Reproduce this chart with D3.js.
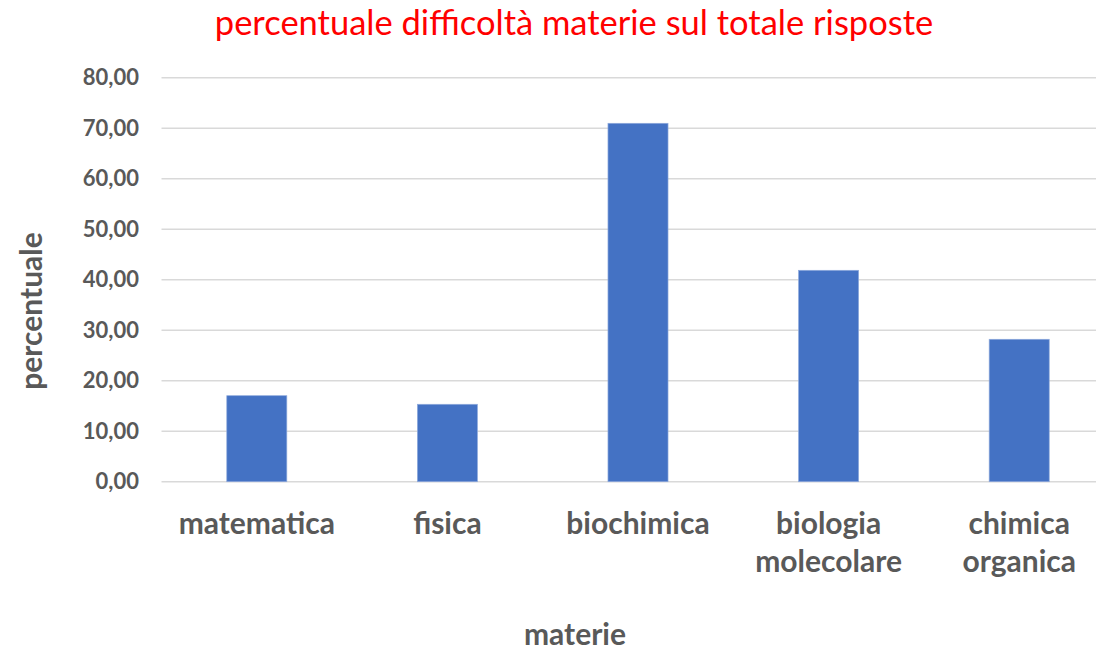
<!DOCTYPE html>
<html><head><meta charset="utf-8">
<script src="https://cdn.jsdelivr.net/npm/d3@7"></script>
<style>body{margin:0;background:#fff}svg{display:block}text{font-family:Lato,"Open Sans",sans-serif}</style>
</head><body><svg id="c" width="1096" height="651"></svg>
<script>
const categories = [["matematica"],["fisica"],["biochimica"],["biologia","molecolare"],["chimica","organica"]];
const values = [17.03, 15.33, 70.97, 41.86, 28.2];
const yTicks = [0,10,20,30,40,50,60,70,80];
const title = "percentuale difficoltà materie sul totale risposte";

const svg = d3.select("#c");
const pLeft = 161.5, pRight = 1114.5, pTop = 77.7, pBottom = 481.7;
const x = d3.scaleBand().domain(categories.map((d,i)=>i)).range([pLeft,pRight]).paddingInner(0.685).paddingOuter(0.3425);
const y = d3.scaleLinear().domain([0,80]).range([pBottom,pTop]);

const g = svg.append("g");
g.selectAll("line.grid").data(yTicks).join("line")
  .attr("x1",pLeft).attr("x2",pRight).attr("y1",d=>y(d)).attr("y2",d=>y(d))
  .attr("stroke","#d9d9d9").attr("stroke-width",1.5);

const yAxis = d3.axisLeft(y).tickValues(yTicks).tickSize(0).tickPadding(0)
  .tickFormat(d=>d3.format(".2f")(d).replace(".",","));
const ya = svg.append("g").attr("transform",`translate(139,0)`).call(yAxis);
ya.select(".domain").remove();
ya.selectAll("text").attr("font-size",22).attr("font-weight","bold").attr("fill","#595959").attr("font-family","Lato");

g.selectAll("rect").data(values).join("rect")
  .attr("x",(d,i)=>x(i)).attr("width",x.bandwidth())
  .attr("y",d=>y(d)).attr("height",d=>pBottom-y(d))
  .attr("fill","#4472c4").attr("stroke","#8faadc").attr("stroke-width",0.7);

const cl = svg.append("g").selectAll("text").data(categories).join("text")
  .attr("x",(d,i)=>x(i)+x.bandwidth()/2).attr("y",534)
  .attr("text-anchor","middle").attr("font-size",30).attr("font-weight","bold").attr("fill","#595959");
cl.selectAll("tspan").data(d=>d).join("tspan")
  .attr("x",function(){return this.parentNode.getAttribute("x");})
  .attr("dy",(d,i)=>i===0?0:38).text(d=>d);

svg.append("text").attr("x",574).attr("y",35).attr("text-anchor","middle")
  .attr("font-size",34.5).attr("fill","#ff0000").text(title);
svg.append("text").attr("x",575).attr("y",645).attr("text-anchor","middle")
  .attr("font-size",30).attr("font-weight","bold").attr("fill","#595959").text("materie");
svg.append("text").attr("transform","translate(42,311) rotate(-90)").attr("text-anchor","middle")
  .attr("font-size",30).attr("font-weight","bold").attr("fill","#595959").text("percentuale");
</script></body></html>
